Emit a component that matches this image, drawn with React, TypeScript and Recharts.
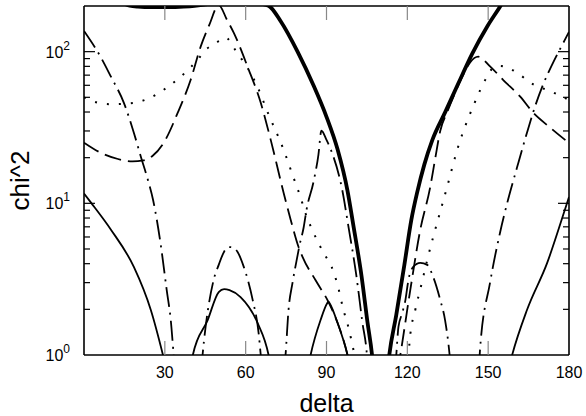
import { LineChart, Line, XAxis, YAxis } from 'recharts'

const FONT = "'Liberation Sans', Arial, Helvetica, sans-serif"

const deltaTicks = [30, 60, 90, 120, 150, 180]
const chiTicks = [1, 2, 3, 4, 5, 6, 7, 8, 9, 10, 20, 30, 40, 50, 60, 70, 80, 90, 100, 200]
const chiExp: Record<number, string> = { 1: '0', 10: '1', 100: '2' }

// thick solid
const thickDelta = [0, 8, 13, 17, 20, 25, 31, 37, 41, 45, 52, 60, 65, 68.5, 73, 79.3, 85.2, 90, 94.1, 97.8, 100, 103, 105.2, 106.9, 107.7, 110, 112.5, 113.3, 115.9, 118.9, 121.5, 123.7, 126.3, 129.3, 134.1, 138.9, 144.1, 149.6, 154.4, 160]
const thickChi = [320, 240, 215, 201, 198, 196.5, 196.5, 198, 200.5, 205, 215, 216, 208, 201, 158.7, 99.7, 59.8, 37.2, 22.7, 12.1, 7.1, 3.32, 1.65, 1.0, 0.7, null, 0.75, 1.0, 1.84, 3.93, 7.8, 11.9, 18, 26.2, 40.1, 61.6, 97.1, 146, 198, 290]

// thin solid
const thinDelta = [0, 2.6, 10, 18.5, 24.8, 29.3, 31, 35, 39.5, 40.4, 45.9, 50, 52, 54, 58.1, 64.4, 68.5, 69.5, 76, 83, 84.1, 87.8, 90.3, 90.7, 91.1, 94.1, 97.8, 99, 130, 157.5, 158.9, 164.4, 171.9, 178.5, 180]
const thinChi = [11.6, 10.1, 6.7, 3.81, 1.98, 1.0, 0.75, null, 0.8, 1.0, 1.7, 2.6, 2.72, 2.68, 2.41, 1.63, 1.0, 0.8, null, 0.8, 1.0, 1.7, 2.2, 2.25, 2.2, 1.63, 1.0, 0.8, null, 0.8, 1.0, 1.98, 4.05, 9.1, 11]

// dashed
const dashDelta = [0, 6.3, 12.6, 18, 22, 25.5, 29.6, 34.8, 39.6, 43.3, 46.5, 50, 53, 55.6, 60.7, 65.6, 69.3, 74.1, 76.7, 79.6, 81.1, 85.9, 90.7, 94.1, 97.8, 99, 108, 116.5, 117.4, 121.1, 124.8, 128.5, 130.4, 132.2, 134.8, 137.8, 141, 143.3, 146.3, 150.7, 155.6, 161.9, 166.7, 173, 180]
const dashChi = [25.1, 21.5, 19.6, 18.9, 19.2, 20.6, 25.1, 39.6, 65.3, 108, 150, 203, 163, 133, 79.6, 46, 26.2, 11.7, 7.8, 5.17, 4.43, 3.12, 2.24, 1.63, 1.0, 0.8, null, 0.8, 1.0, 2.69, 6.7, 12.8, 20, 30, 40, 54, 72, 85, 92.7, 80, 65, 50.5, 39.6, 31.6, 25]

// dotted
const dotDelta = [0, 5.2, 10, 18.5, 23.7, 31.1, 35.9, 42.2, 45.2, 48.9, 52.6, 55.6, 58.1, 61.1, 64.4, 68.1, 74.1, 77.4, 80.4, 82.2, 85.2, 87.4, 89.6, 91.9, 94.1, 96.3, 98.1, 100.4, 101.5, 110, 120, 121.1, 123, 125.2, 127.4, 129.6, 132.2, 134.8, 138.5, 144.4, 149.6, 151.9, 154.5, 157, 160.7, 165.6, 174.1, 180]
const dotChi = [50, 46, 45, 46, 48.9, 58.6, 68.4, 88.6, 103, 114, 124, 106, 91.5, 76, 58.6, 40.1, 22.5, 15.4, 10.9, 8.6, 6.4, 5.3, 4.5, 3.81, 2.9, 1.98, 1.53, 1.0, 0.8, null, 0.8, 1.36, 2.0, 2.9, 4.24, 6.0, 8.8, 12.9, 22.5, 43.5, 68.4, 78.5, 80.5, 78.5, 72.8, 62.6, 53.9, 48]

// dash-dot
const ddDelta = [0, 6.3, 10, 14.8, 18.5, 21.1, 23.7, 25.6, 28.5, 30.7, 32.2, 33.3, 34, 38, 43.5, 44, 48.1, 50, 52, 53.8, 55.5, 57, 59.3, 62.6, 64.8, 65.6, 66.2, 70, 74.3, 74.8, 75.9, 77.4, 79.3, 80, 81.5, 82.6, 85.2, 87, 88.1, 90, 91.9, 95.9, 98.1, 101.1, 103.3, 105, 105.5, 110, 115.5, 115.9, 116.7, 118.1, 119.3, 120.4, 122.2, 124.8, 127.4, 129.6, 132.2, 134, 135.7, 136.2, 140, 146.5, 147, 150.7, 154.4, 157.4, 160.7, 164.4, 167.4, 170.4, 174.1, 178.5, 180]
const ddChi = [137, 91.5, 68.4, 46, 29.2, 20.3, 14.3, 10.6, 5.3, 2.68, 1.7, 1.0, 0.75, null, 0.8, 1.0, 3.12, 3.93, 4.8, 5.15, 5.1, 4.78, 3.81, 2.31, 1.4, 1.0, 0.8, null, 0.8, 1.0, 1.98, 3.0, 4.57, 5.3, 6.9, 9.1, 13.9, 20.9, 30.1, 26.2, 21.9, 12.1, 7.1, 3.32, 1.65, 1.0, 0.75, null, 0.8, 1.0, 1.53, 1.89, 2.31, 3.12, 3.81, 4.05, 3.93, 3.27, 2.31, 1.7, 1.0, 0.8, null, 0.8, 1.1, 3.0, 6.4, 10.6, 17.2, 29.2, 43.5, 60.7, 84.7, 120, 135]

function pts(ds: number[], vs: (number | null)[]) {
  return ds.map((d, i) => ({ d, v: vs[i] }))
}

const series = [
  { key: 'thick', data: pts(thickDelta, thickChi), width: 3.8, dash: undefined },
  { key: 'thin', data: pts(thinDelta, thinChi), width: 1.8, dash: undefined },
  { key: 'dash', data: pts(dashDelta, dashChi), width: 1.8, dash: '17 7' },
  { key: 'dot', data: pts(dotDelta, dotChi), width: 2, dash: '2 10' },
  { key: 'dashdot', data: pts(ddDelta, ddChi), width: 1.8, dash: '20 6 2 6' },
]

const BottomTick = (props: any) => {
  const { x, y, payload } = props
  return (
    <g>
      {payload.value < 180 && <line x1={x} x2={x} y1={y} y2={y - 14} stroke="#888" strokeWidth={1.2} />}
      <text x={x} y={y + 23} textAnchor="middle" fontSize={16} fontFamily={FONT} fill="#000">
        {payload.value}
      </text>
    </g>
  )
}

const TopTick = (props: any) => {
  const { x, y, payload } = props
  if (payload.value >= 180) return <g />
  return <line x1={x} x2={x} y1={y} y2={y + 14} stroke="#888" strokeWidth={1.2} />
}

const LeftTick = (props: any) => {
  const { x, y, payload } = props
  const v = payload.value
  if (v >= 200) return <g />
  const exp = chiExp[v]
  const len = exp ? 11 : 6
  return (
    <g>
      {v > 1 && <line x1={x} x2={x + len} y1={y} y2={y} stroke="#000" strokeWidth={1.2} />}
      {exp && (
        <text x={x - 14} y={y + 6} textAnchor="end" fontSize={16} fontFamily={FONT} fill="#000">
          10<tspan dy={-8} fontSize={12}>{exp}</tspan>
        </text>
      )}
    </g>
  )
}

const RightTick = (props: any) => {
  const { x, y, payload } = props
  const v = payload.value
  if (v >= 200 || v <= 1) return <g />
  const len = chiExp[v] ? 11 : 6
  return <line x1={x - len} x2={x} y1={y} y2={y} stroke="#000" strokeWidth={1.2} />
}

export default function App() {
  return (
    <div style={{ position: 'absolute', left: 0, top: 0, background: '#fff' }}>
      <LineChart width={586} height={416} margin={{ top: 0, right: 0, bottom: 0, left: 0 }}>
        <XAxis
          xAxisId="b"
          dataKey="d"
          type="number"
          domain={[0, 180]}
          ticks={deltaTicks}
          interval={0}
          allowDataOverflow
          height={61}
          tickSize={0}
          tickMargin={0}
          tickLine={false}
          axisLine={{ stroke: '#000', strokeWidth: 1.6 }}
          tick={<BottomTick />}
          label={{
            content: (p: any) => {
              const vb = p.viewBox
              return (
                <text x={vb.x + vb.width / 2} y={vb.y + 57} textAnchor="middle" fontSize={25} fontFamily={FONT} fill="#000">
                  delta
                </text>
              )
            },
          }}
        />
        <XAxis
          xAxisId="t"
          dataKey="d"
          orientation="top"
          type="number"
          domain={[0, 180]}
          ticks={deltaTicks}
          interval={0}
          allowDataOverflow
          height={6}
          tickSize={0}
          tickMargin={0}
          tickLine={false}
          axisLine={{ stroke: '#000', strokeWidth: 1.6 }}
          tick={<TopTick />}
        />
        <YAxis
          yAxisId="l"
          scale="log"
          domain={[1, 200]}
          ticks={chiTicks}
          interval={0}
          allowDataOverflow
          width={84}
          tickSize={0}
          tickMargin={0}
          tickLine={false}
          axisLine={{ stroke: '#000', strokeWidth: 1.6 }}
          tick={<LeftTick />}
          label={{
            content: (p: any) => {
              const vb = p.viewBox
              const cx = vb.x + 29
              const cy = vb.y + vb.height / 2
              return (
                <text x={cx} y={cy} transform={`rotate(-90 ${cx} ${cy})`} textAnchor="middle" fontSize={26} fontFamily={FONT} fill="#000">
                  chi^2
                </text>
              )
            },
          }}
        />
        <YAxis
          yAxisId="r"
          orientation="right"
          scale="log"
          domain={[1, 200]}
          ticks={chiTicks}
          interval={0}
          allowDataOverflow
          width={17}
          tickSize={0}
          tickMargin={0}
          tickLine={false}
          axisLine={{ stroke: '#000', strokeWidth: 1.6 }}
          tick={<RightTick />}
        />
        {series.map((s) => (
          <Line
            key={s.key}
            data={s.data}
            dataKey="v"
            xAxisId="b"
            yAxisId="l"
            type="monotone"
            stroke="#000"
            strokeWidth={s.width}
            strokeDasharray={s.dash}
            dot={false}
            activeDot={false}
            isAnimationActive={false}
          />
        ))}
      </LineChart>
    </div>
  )
}
